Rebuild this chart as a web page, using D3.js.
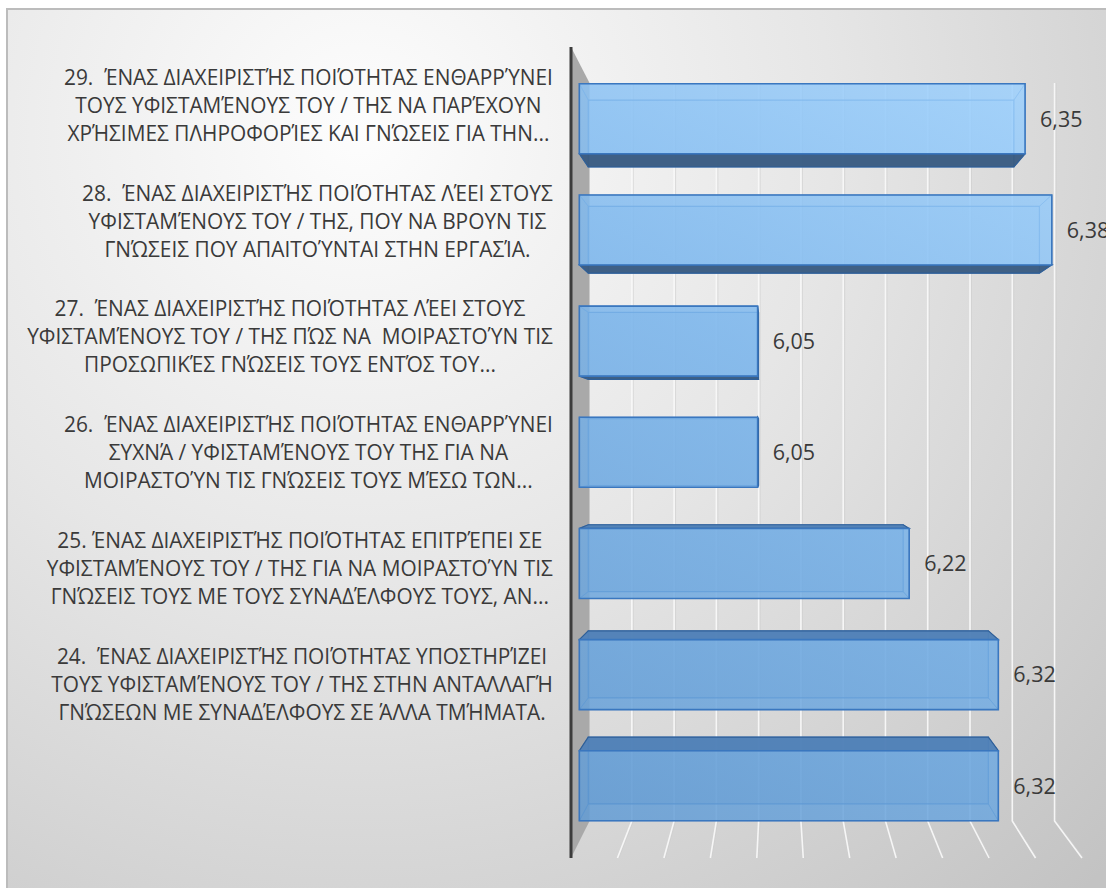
<!DOCTYPE html>
<html>
<head>
<meta charset="utf-8">
<script src="https://cdn.jsdelivr.net/npm/d3@7"></script>
<style>
  html, body { margin: 0; padding: 0; background: #ffffff; }
  svg { display: block; }
  text { white-space: pre; }
</style>
</head>
<body>
<svg id="chart" width="1106" height="888"></svg>
<script>
// Survey items (top to bottom), each wrapped into its display lines
const categoryLines = [
  ["29.  ΈΝΑΣ ΔΙΑΧΕΙΡΙΣΤΉΣ ΠΟΙΌΤΗΤΑΣ ΕΝΘΑΡΡΎΝΕΙ",
   "ΤΟΥΣ ΥΦΙΣΤΑΜΈΝΟΥΣ ΤΟΥ / ΤΗΣ ΝΑ ΠΑΡΈΧΟΥΝ",
   "ΧΡΉΣΙΜΕΣ ΠΛΗΡΟΦΟΡΊΕΣ ΚΑΙ ΓΝΏΣΕΙΣ ΓΙΑ ΤΗΝ..."],
  ["28.  ΈΝΑΣ ΔΙΑΧΕΙΡΙΣΤΉΣ ΠΟΙΌΤΗΤΑΣ ΛΈΕΙ ΣΤΟΥΣ",
   "ΥΦΙΣΤΑΜΈΝΟΥΣ ΤΟΥ / ΤΗΣ, ΠΟΥ ΝΑ ΒΡΟΥΝ ΤΙΣ",
   "ΓΝΏΣΕΙΣ ΠΟΥ ΑΠΑΙΤΟΎΝΤΑΙ ΣΤΗΝ ΕΡΓΑΣΊΑ."],
  ["27.  ΈΝΑΣ ΔΙΑΧΕΙΡΙΣΤΉΣ ΠΟΙΌΤΗΤΑΣ ΛΈΕΙ ΣΤΟΥΣ",
   "ΥΦΙΣΤΑΜΈΝΟΥΣ ΤΟΥ / ΤΗΣ ΠΏΣ ΝΑ  ΜΟΙΡΑΣΤΟΎΝ ΤΙΣ",
   "ΠΡΟΣΩΠΙΚΈΣ ΓΝΏΣΕΙΣ ΤΟΥΣ ΕΝΤΌΣ ΤΟΥ..."],
  ["26.  ΈΝΑΣ ΔΙΑΧΕΙΡΙΣΤΉΣ ΠΟΙΌΤΗΤΑΣ ΕΝΘΑΡΡΎΝΕΙ",
   "ΣΥΧΝΆ / ΥΦΙΣΤΑΜΈΝΟΥΣ ΤΟΥ ΤΗΣ ΓΙΑ ΝΑ",
   "ΜΟΙΡΑΣΤΟΎΝ ΤΙΣ ΓΝΏΣΕΙΣ ΤΟΥΣ ΜΈΣΩ ΤΩΝ..."],
  ["25. ΈΝΑΣ ΔΙΑΧΕΙΡΙΣΤΉΣ ΠΟΙΌΤΗΤΑΣ ΕΠΙΤΡΈΠΕΙ ΣΕ",
   "ΥΦΙΣΤΑΜΈΝΟΥΣ ΤΟΥ / ΤΗΣ ΓΙΑ ΝΑ ΜΟΙΡΑΣΤΟΎΝ ΤΙΣ",
   "ΓΝΏΣΕΙΣ ΤΟΥΣ ΜΕ ΤΟΥΣ ΣΥΝΑΔΈΛΦΟΥΣ ΤΟΥΣ, ΑΝ..."],
  ["24.  ΈΝΑΣ ΔΙΑΧΕΙΡΙΣΤΉΣ ΠΟΙΌΤΗΤΑΣ ΥΠΟΣΤΗΡΊΖΕΙ",
   "ΤΟΥΣ ΥΦΙΣΤΑΜΈΝΟΥΣ ΤΟΥ / ΤΗΣ ΣΤΗΝ ΑΝΤΑΛΛΑΓΉ",
   "ΓΝΏΣΕΩΝ ΜΕ ΣΥΝΑΔΈΛΦΟΥΣ ΣΕ ΆΛΛΑ ΤΜΉΜΑΤΑ."],
  []
];
const values = [6.35, 6.38, 6.05, 6.05, 6.22, 6.32, 6.32];
const axisDomain = [5.85, 6.40];

const W = 1106, H = 888;
const svg = d3.select("#chart");
const defs = svg.append("defs");
const FONT = "'Open Sans', 'Noto Sans', 'DejaVu Sans', sans-serif";

// Simple perspective: depth z in [0,1] (0 = front plane, 1 = back wall)
const CX = 777, CY = 447, K = 0.09;
function P(X, Y, z) {
  const s = 1 - K * z;
  return [CX + (X - CX) * s, CY + (Y - CY) * s];
}
const poly = pts => "M" + pts.map(p => p.join(",")).join("L") + "Z";

// Front-plane scales
const plotTop = 47, plotBottom = 858;
const x = d3.scaleLinear().domain(axisDomain).range([571, 1082]);
const y = d3.scaleBand()
  .domain(values.map((d, i) => String(i)))
  .range([plotTop, plotBottom])
  .paddingInner(0.37)
  .paddingOuter(0.185);
const bw = y.bandwidth();
const gridTicks = x.ticks(11);
const fmt = d3.formatLocale({ decimal: ",", thousands: ".", grouping: [3], currency: ["", "€"] }).format(".2f");

// Chart area background
const bg = defs.append("radialGradient").attr("id", "bgGrad")
  .attr("gradientUnits", "userSpaceOnUse")
  .attr("cx", 360).attr("cy", 130).attr("r", 1050);
bg.append("stop").attr("offset", 0).attr("stop-color", "#fdfdfd");
bg.append("stop").attr("offset", 0.45).attr("stop-color", "#e6e6e6");
bg.append("stop").attr("offset", 1).attr("stop-color", "#c3c3c3");

svg.append("rect").attr("x", 0).attr("y", 0).attr("width", W).attr("height", H).attr("fill", "#ffffff");
svg.append("rect")
  .attr("x", 7).attr("y", 9).attr("width", W).attr("height", H)
  .attr("fill", "url(#bgGrad)")
  .attr("stroke", "#bcbcbc").attr("stroke-width", 2);

// Gridlines on the back wall, bending onto the floor
const grid = svg.append("g");
gridTicks.slice(1).forEach(t => {
  const a = P(x(t), plotTop, 1), b = P(x(t), plotBottom, 1), c = P(x(t), plotBottom, 0);
  const d = "M" + a + "L" + b + "L" + c;
  grid.append("path").attr("d", d).attr("transform", "translate(1.5,0)")
    .attr("fill", "none").attr("stroke", "#cdcdcd").attr("stroke-width", 1).attr("opacity", 0.6);
  grid.append("path").attr("d", d)
    .attr("fill", "none").attr("stroke", "#f8f8f8").attr("stroke-width", 1.6).attr("opacity", 0.95);
});

// Side wall and vertical axis line
const x0 = x(axisDomain[0]);
svg.append("path")
  .attr("d", poly([P(x0, plotTop, 0), P(x0, plotTop, 1), P(x0, plotBottom, 1), P(x0, plotBottom, 0)]))
  .attr("fill", "#a9a9a9");
svg.append("line")
  .attr("x1", P(x0, plotTop, 0)[0]).attr("y1", P(x0, plotTop, 0)[1])
  .attr("x2", P(x0, plotBottom, 0)[0]).attr("y2", P(x0, plotBottom, 0)[1])
  .attr("stroke", "#3c3c3c").attr("stroke-width", 3);

// Bar fill
const barGrad = defs.append("linearGradient").attr("id", "barGrad")
  .attr("gradientUnits", "userSpaceOnUse")
  .attr("x1", 1060).attr("y1", 70).attr("x2", 640).attr("y2", 840);
barGrad.append("stop").attr("offset", 0).attr("stop-color", "#a0d3ff");
barGrad.append("stop").attr("offset", 0.45).attr("stop-color", "#7cb6ec");
barGrad.append("stop").attr("offset", 1).attr("stop-color", "#5f99d2");

// 3-D bars
const z1 = 0.45, z2 = 0.93;
const bars = svg.append("g");
values.forEach((v, i) => {
  const X0 = x0, X1 = x(v), Y0 = y(String(i)), Y1 = Y0 + bw;
  const f = [P(X0, Y0, z1), P(X1, Y0, z1), P(X1, Y1, z1), P(X0, Y1, z1)];
  const b = [P(X0, Y0, z2), P(X1, Y0, z2), P(X1, Y1, z2), P(X0, Y1, z2)];
  const g = bars.append("g");
  const faces = {
    top: [f[0], f[1], b[1], b[0]],
    bottom: [f[3], f[2], b[2], b[3]],
    right: [f[1], f[2], b[2], b[1]],
    left: [f[0], f[3], b[3], b[0]]
  };
  const visible = {
    top: Y0 > CY, bottom: Y1 < CY, right: X1 < CX, left: X0 > CX
  };
  // back face
  g.append("path").attr("d", poly(b))
    .attr("fill", "url(#barGrad)").attr("fill-opacity", 0.45)
    .attr("stroke", "#3f7cc2").attr("stroke-opacity", 0.7).attr("stroke-width", 1.2);
  // hidden sides (seen through the translucent front)
  Object.keys(faces).filter(k => !visible[k]).forEach(k => {
    g.append("path").attr("d", poly(faces[k]))
      .attr("fill", "#9ccdf8").attr("fill-opacity", 0.25)
      .attr("stroke", "#3f7cc2").attr("stroke-opacity", 0.5).attr("stroke-width", 1);
  });
  // visible sides
  Object.keys(faces).filter(k => visible[k]).forEach(k => {
    const col = k === "bottom" ? "#385a80" : k === "top" ? "#4f80b6" : "#4a7fb8";
    g.append("path").attr("d", poly(faces[k]))
      .attr("fill", col).attr("fill-opacity", 0.95)
      .attr("stroke", "#2f5f98").attr("stroke-width", 1.2);
  });
  // front face
  g.append("path").attr("d", poly(f))
    .attr("fill", "url(#barGrad)").attr("fill-opacity", 0.8)
    .attr("stroke", "#3a77bf").attr("stroke-width", 1.6);

  // value label
  svg.append("text")
    .attr("x", f[1][0] + 15)
    .attr("y", (f[1][1] + f[2][1]) / 2)
    .attr("dy", "0.36em")
    .attr("font-family", FONT)
    .attr("font-size", 21.5)
    .attr("fill", "#3a3a3a")
    .text(fmt(v));
});

// Category labels: lines centred within each block, block right-aligned to the axis
const labelRight = 553, lineGap = 28;
const labels = svg.append("g")
  .attr("font-family", FONT)
  .attr("font-size", 21.5)
  .attr("fill", "#3a3a3a");
const blocks = categoryLines.map((lines, i) => {
  const cyBand = y(String(i)) + bw / 2;
  const g = labels.append("g");
  lines.forEach((ln, j) => {
    g.append("text")
      .attr("x", 0)
      .attr("y", (j - (lines.length - 1) / 2) * lineGap)
      .attr("dy", "0.36em")
      .attr("text-anchor", "middle")
      .text(ln);
  });
  return { g, cyBand };
});
let maxW = 0;
blocks.forEach(bl => {
  bl.w = 0;
  bl.g.selectAll("text").each(function () { bl.w = Math.max(bl.w, this.getComputedTextLength()); });
  maxW = Math.max(maxW, bl.w);
});
const sx = maxW > 0 ? Math.min(1, 526 / maxW) : 1;
blocks.forEach(bl => {
  bl.g.attr("transform", `translate(${labelRight - bl.w * sx / 2},${bl.cyBand}) scale(${sx},1)`);
});
</script>
</body>
</html>
